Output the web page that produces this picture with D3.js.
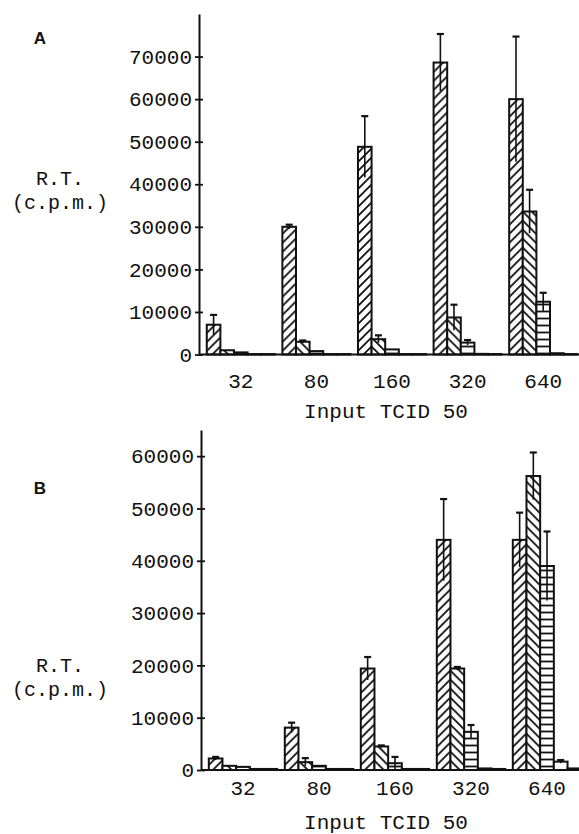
<!DOCTYPE html>
<html>
<head>
<meta charset="utf-8">
<script src="https://cdn.jsdelivr.net/npm/d3@7"></script>
<style>
  body { margin: 0; background: #fff; }
  text { font-family: "Liberation Mono", "DejaVu Sans Mono", monospace; fill: #111; }
</style>
</head>
<body>
<div id="chart"></div>
<script>
// input TCID 50 groups
var groups = ["32", "80", "160", "320", "640"];

// panel A, one row per group, five series each
var valuesA = [
  [7000, 1000, 500, 100, 100],
  [30000, 3000, 800, 100, 100],
  [48800, 3600, 1200, 100, 100],
  [68600, 8700, 2800, 150, 100],
  [60000, 33600, 12400, 300, 100]
];
var errorsA = [
  [2300, 0, 0, 0, 0],
  [500, 300, 0, 0, 0],
  [7200, 900, 0, 0, 0],
  [6700, 3000, 600, 0, 0],
  [14700, 5100, 2100, 0, 0]
];
var ticksA = [0, 10000, 20000, 30000, 40000, 50000, 60000, 70000];

// panel B
var valuesB = [
  [2200, 800, 600, 200, 200],
  [8100, 1500, 800, 200, 200],
  [19400, 4500, 1300, 200, 200],
  [44000, 19400, 7300, 300, 200],
  [44000, 56200, 39000, 1600, 300]
];
var errorsB = [
  [300, 0, 0, 0, 0],
  [950, 770, 0, 0, 0],
  [2200, 200, 1200, 0, 0],
  [7800, 300, 1300, 0, 0],
  [5200, 4500, 6600, 300, 0]
];
var ticksB = [0, 10000, 20000, 30000, 40000, 50000, 60000];

var fills = ["url(#hatchUp)", "url(#hatchDown)", "url(#hatchFlat)", "#fff", "#fff"];

var svg = d3.select("#chart").append("svg")
  .attr("width", 579)
  .attr("height", 834);

var defs = svg.append("defs");
function addPattern(id, w, h, d) {
  var p = defs.append("pattern")
    .attr("id", id)
    .attr("patternUnits", "userSpaceOnUse")
    .attr("width", w).attr("height", h);
  p.append("rect").attr("width", w).attr("height", h).attr("fill", "#fff");
  p.append("path").attr("d", d).attr("stroke", "#111").attr("stroke-width", 1.8).attr("fill", "none");
}
addPattern("hatchUp", 9, 9, "M-2,2 L2,-2 M0,9 L9,0 M7,11 L11,7");
addPattern("hatchDown", 9, 9, "M-2,7 L2,11 M0,0 L9,9 M7,-2 L11,2");
addPattern("hatchFlat", 10, 7, "M0,3.5 L10,3.5");

function drawPanel(cfg) {
  var y = d3.scaleLinear().domain(cfg.domain).range(cfg.yRange);
  var x = d3.scaleBand().domain(groups).range(cfg.xRange).paddingInner(0.1).paddingOuter(0.05);
  var xs = d3.scaleBand().domain(d3.range(5)).range([0, x.bandwidth()]);

  var g = svg.append("g");

  // y axis with crossing ticks
  var ax = g.append("g")
    .attr("transform", "translate(" + cfg.axisX + ",0)")
    .call(d3.axisLeft(y).tickValues(cfg.ticks).tickFormat(d3.format("d")).tickSizeInner(4).tickSizeOuter(0).tickPadding(3));
  ax.select(".domain").attr("stroke", "#111").attr("stroke-width", 2);
  ax.selectAll(".tick line").attr("x1", 4).attr("x2", -4).attr("stroke", "#111").attr("stroke-width", 1.8);
  ax.selectAll(".tick text").style("font-size", "21px").attr("fill", "#111")
    .style("font-family", "'Liberation Mono', monospace");

  var grp = g.selectAll(".grp")
    .data(cfg.values)
    .enter().append("g")
    .attr("class", "grp")
    .attr("transform", function(d, i) { return "translate(" + x(groups[i]) + ",0)"; });

  grp.selectAll("rect")
    .data(function(d) { return d; })
    .enter().append("rect")
    .attr("x", function(d, j) { return xs(j); })
    .attr("y", function(d) { return y(d); })
    .attr("width", xs.bandwidth())
    .attr("height", function(d) { return y(0) - y(d); })
    .attr("fill", function(d, j) { return fills[j]; })
    .attr("stroke", "#111")
    .attr("stroke-width", 2);

  // error bars
  grp.each(function(row, i) {
    var eg = d3.select(this);
    row.forEach(function(v, j) {
      var e = cfg.errors[i][j];
      if (!e) return;
      var cx = xs(j) + xs.bandwidth() / 2;
      eg.append("line")
        .attr("x1", cx).attr("x2", cx)
        .attr("y1", y(v - e)).attr("y2", y(v + e))
        .attr("stroke", "#111").attr("stroke-width", 1.6);
      eg.append("line")
        .attr("x1", cx - 3.5).attr("x2", cx + 3.5)
        .attr("y1", y(v + e)).attr("y2", y(v + e))
        .attr("stroke", "#111").attr("stroke-width", 2.2);
    });
  });

  // baseline
  g.append("line")
    .attr("x1", cfg.axisX).attr("x2", 579)
    .attr("y1", y(0)).attr("y2", y(0))
    .attr("stroke", "#111").attr("stroke-width", 2.2);

  g.selectAll(".xl")
    .data(groups)
    .enter().append("text")
    .attr("class", "xl")
    .attr("x", function(d) { return x(d) + x.bandwidth() / 2; })
    .attr("y", cfg.xLabelY)
    .attr("text-anchor", "middle")
    .style("font-size", "21px")
    .text(function(d) { return d; });

  g.append("text")
    .attr("x", 386).attr("y", cfg.titleY)
    .attr("text-anchor", "middle")
    .style("font-size", "21px")
    .text("Input TCID 50");

  g.append("text")
    .attr("x", 60).attr("y", cfg.rtY)
    .attr("text-anchor", "middle")
    .style("font-size", "20px")
    .text("R.T.");
  g.append("text")
    .attr("x", 60).attr("y", cfg.rtY + 24)
    .attr("text-anchor", "middle")
    .style("font-size", "20px")
    .text("(c.p.m.)");

  g.append("text")
    .attr("x", 40).attr("y", cfg.letterY)
    .attr("text-anchor", "middle")
    .style("font-family", "'Liberation Sans', Arial, sans-serif")
    .style("font-size", "17px")
    .style("font-weight", "bold")
    .text(cfg.letter);
}

drawPanel({
  values: valuesA, errors: errorsA, ticks: ticksA,
  domain: [0, 80000], yRange: [354.5, 14],
  xRange: [203, 581], axisX: 199,
  xLabelY: 388, titleY: 418, rtY: 185, letterY: 44, letter: "A"
});

drawPanel({
  values: valuesB, errors: errorsB, ticks: ticksB,
  domain: [0, 65000], yRange: [770, 430],
  xRange: [205, 585], axisX: 201,
  xLabelY: 795, titleY: 829, rtY: 672, letterY: 494, letter: "B"
});
</script>
</body>
</html>
